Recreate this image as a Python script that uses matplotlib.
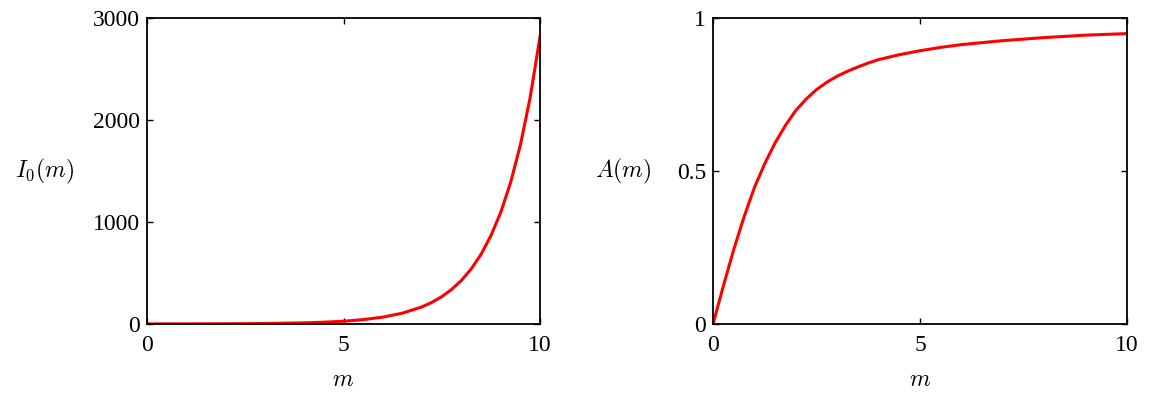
import numpy as np
import matplotlib
matplotlib.use("Agg")
import matplotlib.pyplot as plt

plt.rcParams['font.family'] = ['Liberation Serif', 'DejaVu Serif']
plt.rcParams['mathtext.fontset'] = 'cm'

# Data
m_left = [0, 1, 2, 3, 4, 4.5, 5, 5.5, 6, 6.5, 7, 7.25, 7.5, 7.75, 8, 8.25, 8.5, 8.75,
          9, 9.25, 9.5, 9.75, 10]
i0_vals = [1, 1.3, 2.3, 4.9, 11.3, 17.5, 27.2, 42.7, 67.2, 106.3, 168.6, 212.5, 268.2,
           338.5, 427.6, 540, 683.2, 865, 1093.6, 1385, 1753.6, 2221, 2815.7]

m_right = [0, 0.25, 0.5, 0.75, 1, 1.25, 1.5, 1.75, 2, 2.25, 2.5, 2.75, 3, 3.25, 3.5,
           3.75, 4, 4.5, 5, 5.5, 6, 7, 8, 9, 10]
a_vals = [0, 0.124, 0.243, 0.350, 0.446, 0.524, 0.592, 0.649, 0.698, 0.735, 0.766, 0.790,
          0.810, 0.826, 0.840, 0.853, 0.864, 0.880, 0.893, 0.904, 0.913, 0.926, 0.936,
          0.944, 0.949]

fig = plt.figure(figsize=(11.49, 3.97), dpi=100)
ax1 = fig.add_axes([147 / 1149, 73 / 397, 393 / 1149, 306 / 397])
ax2 = fig.add_axes([713 / 1149, 73 / 397, 414 / 1149, 306 / 397])

ax1.plot(m_left, i0_vals, color="red", lw=2.2)
ax1.set_xlim(0, 10)
ax1.set_ylim(0, 3000)
ax1.set_xticks([0, 5, 10])
ax1.set_yticks([0, 1000, 2000, 3000])
ax1.set_ylabel(r"$I_0(m)$", rotation=0, ha="right", va="center", fontsize=17)
ax1.yaxis.set_label_coords(-0.185, 0.5)

ax2.plot(m_right, a_vals, color="red", lw=2.2)
ax2.set_xlim(0, 10)
ax2.set_ylim(0, 1)
ax2.set_xticks([0, 5, 10])
ax2.set_yticks([0, 0.5, 1])
ax2.set_yticklabels(["0", "0.5", "1"])
ax2.set_ylabel(r"$A(m)$", rotation=0, ha="right", va="center", fontsize=17)
ax2.yaxis.set_label_coords(-0.148, 0.5)

for ax in (ax1, ax2):
    ax.set_xlabel(r"$m$", fontsize=17, labelpad=10)
    ax.tick_params(direction="in", top=True, right=True, length=4, width=1,
                   labelsize=17)
    ax.tick_params(axis="x", pad=8)
    ax.tick_params(axis="y", pad=5)
    for s in ax.spines.values():
        s.set_linewidth(1.3)

fig.savefig("out.png", dpi=100)
